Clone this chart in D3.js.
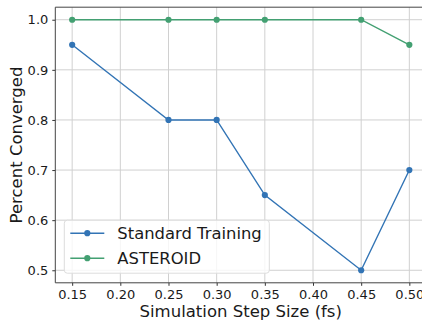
<!DOCTYPE html>
<html>
<head>
<meta charset="utf-8">
<script src="https://cdn.jsdelivr.net/npm/d3@7"></script>
<style>
  body { margin: 0; background: #fff; overflow: hidden; }
  svg { display: block; }
  text { font-family: "DejaVu Sans", sans-serif; fill: #1a1a1a; }
</style>
</head>
<body>
<svg width="422" height="320"></svg>
<script>
const stepSizes = [0.15, 0.25, 0.30, 0.35, 0.45, 0.50];
const standardTraining = [0.95, 0.80, 0.80, 0.65, 0.50, 0.70];
const asteroid = [1.00, 1.00, 1.00, 1.00, 1.00, 0.95];
const xTicks = [0.15, 0.20, 0.25, 0.30, 0.35, 0.40, 0.45, 0.50];
const yTicks = [0.5, 0.6, 0.7, 0.8, 0.9, 1.0];

const series = [
  { name: "Standard Training", values: standardTraining, color: "#3274b5" },
  { name: "ASTEROID", values: asteroid, color: "#43a072" }
];

const margin = { top: 7.2, right: -4.2, bottom: 37.2, left: 55.3 };
const width = +d3.select("svg").attr("width") - margin.left - margin.right;
const height = +d3.select("svg").attr("height") - margin.top - margin.bottom;

const svg = d3.select("svg")
  .append("g")
  .attr("transform", `translate(${margin.left},${margin.top})`);

// matplotlib style 5% margins
const x = d3.scaleLinear().domain([0.1325, 0.5175]).range([0, width]);
const y = d3.scaleLinear().domain([0.475, 1.025]).range([height, 0]);

// grid
svg.append("g").selectAll("line")
  .data(xTicks).enter().append("line")
  .attr("x1", d => x(d)).attr("x2", d => x(d))
  .attr("y1", 0).attr("y2", height)
  .attr("stroke", "#d0d0d0").attr("stroke-width", 1);
svg.append("g").selectAll("line")
  .data(yTicks).enter().append("line")
  .attr("x1", 0).attr("x2", width)
  .attr("y1", d => y(d)).attr("y2", d => y(d))
  .attr("stroke", "#d0d0d0").attr("stroke-width", 1);

// axes
const xAxis = svg.append("g")
  .attr("transform", `translate(0,${height})`)
  .call(d3.axisBottom(x).tickValues(xTicks).tickFormat(d3.format(".2f")).tickSize(3).tickPadding(4));
const yAxis = svg.append("g")
  .call(d3.axisLeft(y).tickValues(yTicks).tickFormat(d3.format(".1f")).tickSize(3).tickPadding(4));
[xAxis, yAxis].forEach(a => {
  a.select(".domain").remove();
  a.selectAll(".tick line").attr("stroke", "#333");
  a.selectAll("text").style("font-size", "13px").attr("fill", "#1a1a1a");
});

// spines (right one falls outside the picture)
const spines = [[0, 0, width, 0], [0, 0, 0, height], [0, height, width, height]];
svg.append("g").selectAll("line")
  .data(spines).enter().append("line")
  .attr("x1", d => d[0]).attr("y1", d => d[1])
  .attr("x2", d => d[2]).attr("y2", d => d[3])
  .attr("stroke", "#444").attr("stroke-width", 1);

// lines and markers
const line = d3.line()
  .x((d, i) => x(stepSizes[i]))
  .y(d => y(d));

series.forEach(s => {
  svg.append("path")
    .datum(s.values)
    .attr("fill", "none")
    .attr("stroke", s.color)
    .attr("stroke-width", 1.4)
    .attr("d", line);
  svg.selectAll(null)
    .data(s.values).enter().append("circle")
    .attr("cx", (d, i) => x(stepSizes[i]))
    .attr("cy", d => y(d))
    .attr("r", 3.1)
    .attr("fill", s.color);
});

// legend
const legend = svg.append("g").attr("transform", "translate(9,213)");
legend.append("rect")
  .attr("width", 205).attr("height", 53).attr("rx", 3)
  .attr("fill", "#fff").attr("fill-opacity", 0.8)
  .attr("stroke", "#ddd").attr("stroke-width", 1);
series.forEach((s, i) => {
  const g = legend.append("g").attr("transform", `translate(0,${13 + i * 25})`);
  g.append("line").attr("x1", 6).attr("x2", 40)
    .attr("stroke", s.color).attr("stroke-width", 1.4);
  g.append("circle").attr("cx", 23).attr("r", 3.1).attr("fill", s.color);
  g.append("text").attr("x", 53).attr("dy", "0.35em")
    .style("font-size", "16.4px").text(s.name);
});

// axis labels
svg.append("text")
  .attr("x", (x(0.1325) + x(0.5175)) / 2)
  .attr("y", height + 34)
  .attr("text-anchor", "middle")
  .style("font-size", "16.5px")
  .text("Simulation Step Size (fs)");

svg.append("text")
  .attr("transform", `translate(${21.5 - margin.left},${height / 2}) rotate(-90)`)
  .attr("text-anchor", "middle")
  .style("font-size", "16.5px")
  .text("Percent Converged");
</script>
</body>
</html>
